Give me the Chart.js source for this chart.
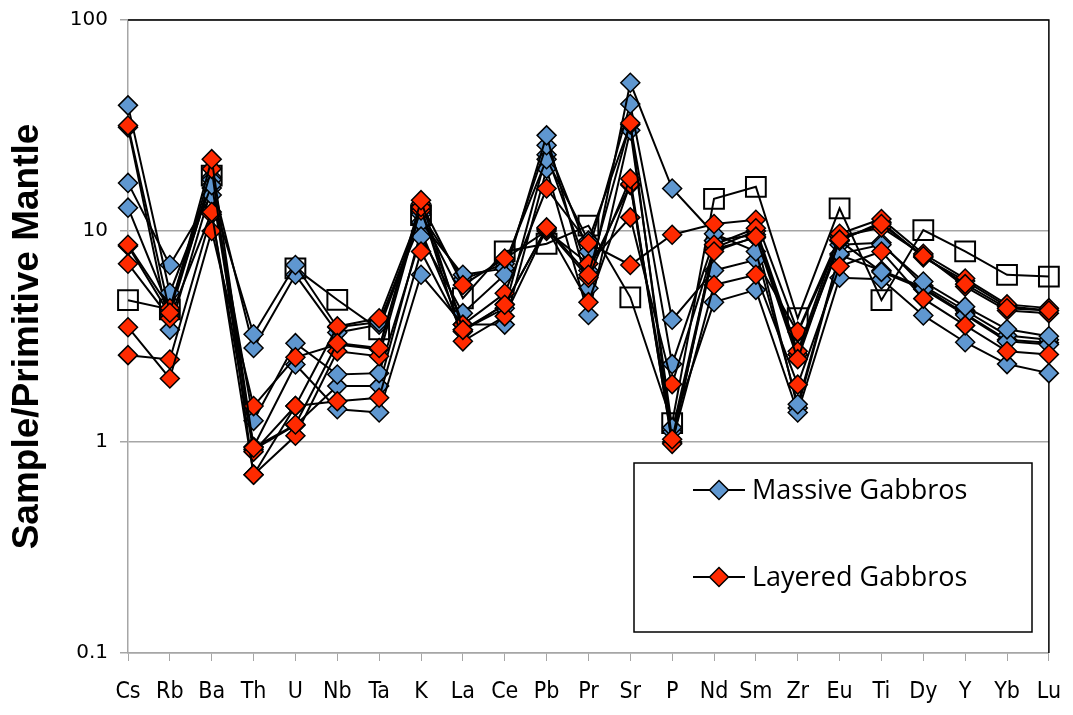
<!DOCTYPE html>
<html>
<head>
<meta charset="utf-8">
<script src="https://cdn.jsdelivr.net/npm/chart.js@4.4.1/dist/chart.umd.min.js"></script>
<style>
  html, body { margin: 0; padding: 0; background: #fff; overflow: hidden; }
  #spider { display: block; margin-top: -4px; }
</style>
</head>
<body>
<canvas id="spider" width="1078" height="719"></canvas>
<script>
// element order along the x axis
const elements = ["Cs", "Rb", "Ba", "Th", "U", "Nb", "Ta", "K", "La", "Ce", "Pb", "Pr", "Sr", "P", "Nd", "Sm", "Zr", "Eu", "Ti", "Dy", "Y", "Yb", "Lu"];
const yTicks = [0.1, 1, 10, 100];

// massive gabbros (blue)
const massiveA = [39.4, 5.1, 16.5, 1.26, 2.94, 2.09, 2.12, 9.4, 4.08, 6.2, 28.4, 5.35, 50.4, 15.9, 9.7, 8.0, 1.51, 7.8, 8.6, 5.76, 4.38, 3.42, 3.17];
const massiveB = [16.9, 6.9, 14.8, 3.24, 6.9, 3.5, 3.7, 11, 6.2, 6.65, 25.5, 8.0, 40, 3.8, 6.5, 7.3, 3.3, 9.0, 6.4, 5.3, 4.0, 3.0, 2.9];
const massiveC = [12.9, 4.2, 17.5, 2.79, 6.2, 3.3, 3.6, 12, 5.9, 7.0, 21.9, 9.0, 32, 2.34, 9.0, 9.6, 2.6, 8.6, 8.8, 5.5, 4.2, 3.2, 3.05];
const massiveD = [31, 3.4, 16, 0.95, 2.33, 1.43, 1.38, 6.2, 3.6, 3.6, 19.7, 4.0, 30, 1.17, 4.6, 5.26, 1.38, 6.0, 5.9, 3.98, 2.97, 2.34, 2.12];
const massiveE = [8.5, 4.0, 18, 0.92, 1.2, 1.84, 1.84, 10, 3.4, 4.3, 23, 6.5, 16.5, 1.12, 8.2, 9.3, 1.45, 7.7, 6.5, 5.4, 4.05, 3.05, 2.95];

// layered gabbros (red)
const layeredA = [31.6, 4.1, 21.9, 0.94, 1.21, 2.94, 2.79, 14, 3.4, 4.47, 10.4, 6.2, 32.5, 1.03, 8.0, 9.4, 2.47, 9.1, 10.8, 7.6, 5.6, 4.3, 4.2];
const layeredB = [8.6, 4.3, 19.7, 0.70, 1.07, 2.69, 2.55, 13, 3.0, 3.94, 10.2, 6.0, 17.7, 0.98, 8.6, 10.3, 2.69, 9.7, 11.4, 7.8, 5.95, 4.49, 4.31];
const layeredC = [7.0, 3.86, 12.3, 0.70, 1.48, 3.53, 3.86, 12.5, 3.6, 5.07, 15.9, 8.75, 6.9, 9.6, 10.8, 11.3, 3.34, 9.4, 10.4, 7.7, 5.45, 4.2, 4.08];
const layeredD = [3.5, 2.0, 10.0, 1.48, 2.52, 2.9, 2.75, 13.5, 5.55, 7.4, 10.0, 7.0, 11.6, 1.88, 8.3, 10.0, 2.6, 9.0, 11.0, 7.5, 5.8, 4.4, 4.2];
const layeredE = [2.58, 2.46, 12.0, 0.9, 1.48, 1.56, 1.62, 8.0, 3.34, 4.5, 10.3, 4.6, 16.7, 1.0, 5.55, 6.2, 1.87, 6.8, 8.0, 4.78, 3.57, 2.69, 2.6];

// open-square reference pattern (no Th value)
const reference = [4.7, 4.25, 18.3, null, 6.65, 4.72, 3.42, 11.9, 4.8, 8.0, 8.7, 10.6, 4.85, 1.23, 14.2, 16.2, 3.86, 12.8, 4.7, 10.1, 8.0, 6.2, 6.08];

const blueFill = "#5f97d0";
const redFill = "#ff2a00";
const gridGrey = "#a6a6a6";

function sampleSet(label, data, fill, order) {
  return {
    label: label,
    data: data,
    borderColor: "#000",
    borderWidth: 2,
    pointStyle: "rectRot",
    pointRadius: 9.5,
    pointHoverRadius: 9.5,
    pointBackgroundColor: fill,
    pointBorderColor: "#000",
    pointBorderWidth: 1.5,
    tension: 0,
    fill: false,
    order: order
  };
}

const datasets = [
  sampleSet("Massive Gabbros", massiveA, blueFill, 1),
  sampleSet("Massive Gabbros", massiveB, blueFill, 1),
  sampleSet("Massive Gabbros", massiveC, blueFill, 1),
  sampleSet("Massive Gabbros", massiveD, blueFill, 1),
  sampleSet("Massive Gabbros", massiveE, blueFill, 1),
  sampleSet("Layered Gabbros", layeredA, redFill, 0),
  sampleSet("Layered Gabbros", layeredB, redFill, 0),
  sampleSet("Layered Gabbros", layeredC, redFill, 0),
  sampleSet("Layered Gabbros", layeredD, redFill, 0),
  sampleSet("Layered Gabbros", layeredE, redFill, 0),
  {
    label: "Reference",
    data: reference,
    borderColor: "#000",
    borderWidth: 2,
    pointStyle: "rect",
    pointRadius: 14,
    pointHoverRadius: 14,
    pointBackgroundColor: "rgba(255,255,255,0)",
    pointBorderColor: "#000",
    pointBorderWidth: 2,
    spanGaps: false,
    order: 2
  }
];

// black frame on top and right of the plot area
const plotFrame = {
  id: "plotFrame",
  beforeDatasetsDraw(chart) {
    const { ctx, chartArea: a } = chart;
    ctx.save();
    ctx.strokeStyle = "#000";
    ctx.lineWidth = 1.5;
    ctx.beginPath();
    ctx.moveTo(a.left, a.top);
    ctx.lineTo(a.right, a.top);
    ctx.lineTo(a.right, a.bottom);
    ctx.stroke();
    ctx.restore();
  }
};

// boxed legend inside the plot (canvas is shifted up 4px by css)
function legendDiamond(ctx, x, y, fill) {
  ctx.beginPath();
  ctx.moveTo(x - 9.5, y);
  ctx.lineTo(x, y - 9.5);
  ctx.lineTo(x + 9.5, y);
  ctx.lineTo(x, y + 9.5);
  ctx.closePath();
  ctx.fillStyle = fill;
  ctx.fill();
  ctx.lineWidth = 1.5;
  ctx.strokeStyle = "#000";
  ctx.stroke();
}

const boxLegend = {
  id: "boxLegend",
  afterDraw(chart) {
    const ctx = chart.ctx;
    const entries = [["Massive Gabbros", blueFill, 494], ["Layered Gabbros", redFill, 581]];
    ctx.save();
    ctx.fillStyle = "#fff";
    ctx.fillRect(634, 467, 398, 169);
    ctx.strokeStyle = "#000";
    ctx.lineWidth = 1.5;
    ctx.strokeRect(634, 467, 398, 169);
    entries.forEach(([text, fill, y]) => {
      ctx.beginPath();
      ctx.moveTo(693, y);
      ctx.lineTo(745, y);
      ctx.lineWidth = 2;
      ctx.strokeStyle = "#000";
      ctx.stroke();
      legendDiamond(ctx, 719, y, fill);
      ctx.fillStyle = "#000";
      ctx.font = "27px 'Open Sans', sans-serif";
      ctx.textBaseline = "middle";
      ctx.textAlign = "left";
      ctx.fillText(text, 752, y + 1);
    });
    ctx.restore();
  }
};

new Chart(document.getElementById("spider"), {
  type: "line",
  data: { labels: elements, datasets: datasets },
  plugins: [plotFrame, boxLegend],
  options: {
    responsive: false,
    animation: false,
    devicePixelRatio: 1,
    layout: { padding: { top: 14, right: 18, left: 0, bottom: 0 } },
    plugins: {
      legend: { display: false },
      tooltip: { enabled: false }
    },
    scales: {
      x: {
        type: "category",
        offset: false,
        grid: { display: true, drawOnChartArea: false, drawTicks: true, tickLength: 8, color: gridGrey },
        border: { color: gridGrey, width: 1.5 },
        ticks: {
          color: "#000",
          padding: 17,
          maxRotation: 0,
          autoSkip: false,
          font: { family: "'Liberation Sans Narrow', 'DejaVu Sans Condensed', sans-serif", size: 23 }
        },
        afterFit(scale) { scale.height = 62; }
      },
      y: {
        type: "logarithmic",
        min: 0.1,
        max: 100,
        afterBuildTicks(scale) { scale.ticks = yTicks.map(v => ({ value: v })); },
        grid: { color: gridGrey, lineWidth: 1.5, tickLength: 8 },
        border: { color: gridGrey, width: 1.5 },
        ticks: {
          color: "#000",
          padding: 12,
          font: { family: "'DejaVu Sans', sans-serif", size: 20 },
          callback: v => String(v)
        },
        title: {
          display: true,
          text: "Sample/Primitive Mantle",
          color: "#000",
          padding: { top: 6, bottom: 0 },
          font: { family: "'Liberation Sans', Arial, sans-serif", size: 37, weight: "bold" }
        },
        afterFit(scale) { scale.width = 128; }
      }
    }
  }
});
</script>
</body>
</html>
